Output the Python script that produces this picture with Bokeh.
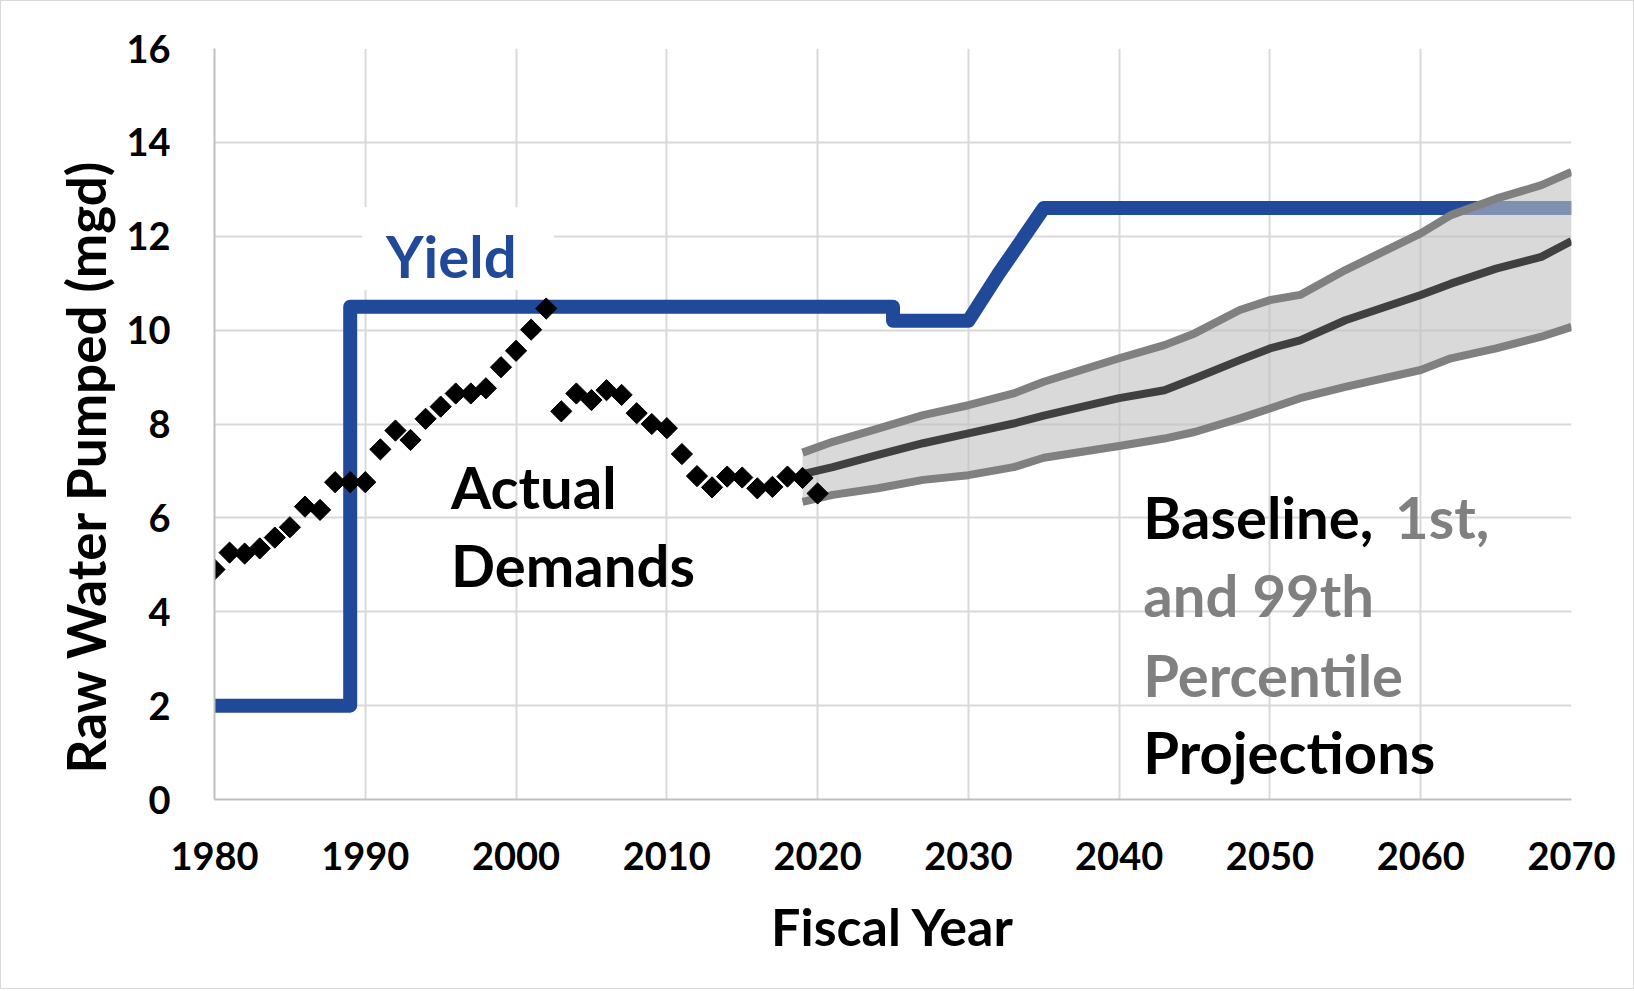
from bokeh.plotting import figure
from bokeh.models import FixedTicker, Title
from bokeh.core.properties import value
from bokeh.embed import file_html
from bokeh.resources import INLINE

# ---------------- data ----------------
x_ticks = [1980, 1990, 2000, 2010, 2020, 2030, 2040, 2050, 2060, 2070]
y_ticks = [0, 2, 4, 6, 8, 10, 12, 14, 16]

actual_years = list(range(1980, 2021))
actual_demand = [4.90, 5.26, 5.24, 5.35, 5.58, 5.80, 6.24, 6.17, 6.76, 6.76,
                 6.76, 7.46, 7.86, 7.66, 8.11, 8.37, 8.65, 8.65, 8.76, 9.21,
                 9.56, 10.01, 10.46, 8.27, 8.65, 8.51, 8.72, 8.62, 8.23, 8.00,
                 7.91, 7.36, 6.89, 6.65, 6.88, 6.86, 6.63, 6.66, 6.88, 6.85,
                 6.52]

yield_years = [1980, 1989, 1989, 2025, 2025, 2030, 2032, 2035, 2070]
yield_mgd = [2.0, 2.0, 10.5, 10.5, 10.2, 10.2, 11.2, 12.6, 12.6]

proj_years = [2019, 2021, 2024, 2027, 2030, 2033, 2035, 2040, 2043, 2045,
              2048, 2050, 2052, 2055, 2060, 2062, 2065, 2068, 2070]
proj_p99 = [7.39, 7.62, 7.90, 8.19, 8.40, 8.65, 8.90, 9.40, 9.68, 9.93,
            10.43, 10.64, 10.75, 11.28, 12.06, 12.45, 12.80, 13.09, 13.37]
proj_base = [6.93, 7.08, 7.34, 7.59, 7.80, 8.01, 8.18, 8.55, 8.72, 8.97,
             9.36, 9.61, 9.78, 10.21, 10.75, 10.99, 11.31, 11.56, 11.90]
proj_p01 = [6.34, 6.49, 6.63, 6.81, 6.91, 7.08, 7.28, 7.53, 7.69, 7.83,
            8.12, 8.33, 8.55, 8.79, 9.15, 9.40, 9.61, 9.86, 10.07]

FONT = value("Lato")
BLUE = "#21499a"
GRAY = "#808080"

p = figure(frame_width=1357, frame_height=751,
           min_border_left=213, min_border_right=62,
           min_border_top=47, min_border_bottom=189,
           x_range=(1980, 2070), y_range=(0, 16),
           output_backend="svg", toolbar_location=None,
           background_fill_color="white", border_fill_color="white")
p.styles = {"border": "1px solid #d9d9d9"}
p.outline_line_color = None

for ax in (p.xaxis[0], p.yaxis[0]):
    ax.major_tick_line_color = None
    ax.minor_tick_line_color = None
    ax.axis_line_color = "#bfbfbf"
    ax.axis_line_width = 2
    ax.major_label_text_font = "Lato"
    ax.major_label_text_font_style = "bold"
    ax.major_label_text_font_size = "38px"
    ax.major_label_text_color = "black"
    ax.axis_label_text_font = "Lato"
    ax.axis_label_text_font_style = "bold"
    ax.axis_label_text_font_size = "52px"
    ax.axis_label_text_color = "black"

p.xaxis.ticker = FixedTicker(ticks=x_ticks)
p.yaxis.ticker = FixedTicker(ticks=y_ticks)
p.xaxis.axis_label = "Fiscal Year"
p.xaxis.major_label_standoff = 36
p.yaxis.major_label_standoff = 38
p.xaxis.axis_label_standoff = 22

p.xgrid.ticker = FixedTicker(ticks=x_ticks)
p.ygrid.ticker = FixedTicker(ticks=y_ticks)
for g in (p.xgrid[0], p.ygrid[0]):
    g.grid_line_color = "#d9d9d9"
    g.grid_line_width = 2

# y-axis title, placed like the reference (lower than centre)
p.add_layout(Title(text="Raw Water Pumped (mgd)", align="left", offset=26,
                   standoff=13, text_font="Lato", text_font_style="bold",
                   text_font_size="53px", text_color="black"), "left")

# white box behind the "Yield" label
p.quad(left=[1989.8], right=[2002.5], bottom=[10.85], top=[12.62],
       fill_color="white", line_color=None)

# yield
p.line(yield_years, yield_mgd, line_color=BLUE, line_width=14,
       line_join="round", line_cap="butt")

# projection band
p.varea(x=proj_years, y1=proj_p01, y2=proj_p99, fill_color="#bfbfbf", fill_alpha=0.6)
p.line(proj_years, proj_p99, line_color=GRAY, line_width=8, line_join="round")
p.line(proj_years, proj_p01, line_color=GRAY, line_width=8, line_join="round")
p.line(proj_years, proj_base, line_color="#404040", line_width=8, line_join="round")

# actual demands
p.scatter(actual_years, actual_demand, marker="square", size=15, angle=45,
          angle_units="deg", fill_color="black", line_color="black")

# annotations
def label(x, y, t, color, size="58px"):
    p.text(x=[x], y=[y], text=[t], text_font=FONT, text_font_size=size,
           text_font_style="bold", text_color=color,
           text_align="left", text_baseline="alphabetic")

label(1991.37, 11.60, "Yield", BLUE)
label(1995.69, 6.66, "Actual", "black")
label(1995.69, 5.00, "Demands", "black")
label(2041.6, 6.03, "Baseline,", "black")
label(2058.3, 6.03, "1st,", GRAY)
label(2041.6, 4.36, "and 99th", GRAY)
label(2041.6, 2.66, "Percentile", GRAY)
label(2041.6, 1.03, "Projections", "black")

open("out.html", "w").write(file_html(p, INLINE))
